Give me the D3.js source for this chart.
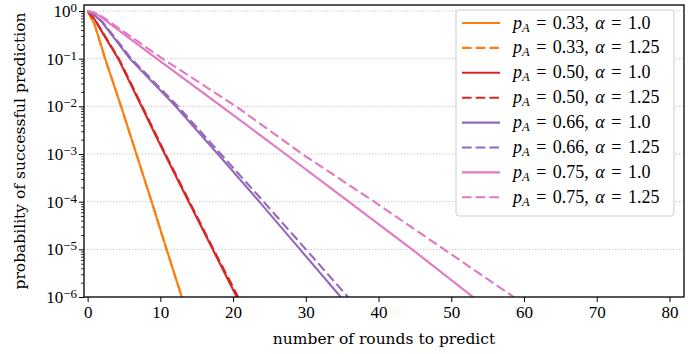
<!DOCTYPE html>
<html>
<head>
<meta charset="utf-8">
<script src="https://cdn.jsdelivr.net/npm/d3@7"></script>
<style>
  body { margin: 0; background: #fff; }
  svg { display: block; font-family: "Liberation Serif", "DejaVu Serif", serif; }
</style>
</head>
<body>
<div id="chart"></div>
<script>
// values (rounds, probability)
var orangeSolidRounds = [0, 1, 2, 2.4, 4.6, 6.7, 8.8, 10.85, 12.95]
var orangeSolidProb   = [1, 0.5, 0.16, 1e-1, 1e-2, 1e-3, 1e-4, 1e-5, 1e-6]
var orangeDashRounds  = [0, 1, 2, 2.4, 4.6, 6.7, 8.8, 10.85, 12.95]
var orangeDashProb    = [1, 0.5, 0.16, 1e-1, 1e-2, 1e-3, 1e-4, 1e-5, 1e-6]
var redSolidRounds    = [0, 1, 2, 4.2, 7.4, 10.6, 13.9, 17.2, 20.5]
var redSolidProb      = [1, 0.65, 0.36, 1e-1, 1e-2, 1e-3, 1e-4, 1e-5, 1e-6]
var redDashRounds     = [0, 1, 2, 4.3, 7.5, 10.7, 14.0, 17.3, 20.7]
var redDashProb       = [1, 0.66, 0.37, 1e-1, 1e-2, 1e-3, 1e-4, 1e-5, 1e-6]
var purpleSolidRounds = [0, 1, 2, 5.8, 12.1, 17.9, 23.6, 29.2, 34.8]
var purpleSolidProb   = [1, 0.8, 0.58, 1e-1, 1e-2, 1e-3, 1e-4, 1e-5, 1e-6]
var purpleDashRounds  = [0, 1, 2, 6.0, 12.4, 18.3, 24.2, 30.0, 35.8]
var purpleDashProb    = [1, 0.81, 0.6, 1e-1, 1e-2, 1e-3, 1e-4, 1e-5, 1e-6]
var pinkSolidRounds   = [0, 1, 2, 9.5, 18.4, 27.2, 35.9, 44.6, 53.0]
var pinkSolidProb     = [1, 0.9, 0.72, 1e-1, 1e-2, 1e-3, 1e-4, 1e-5, 1e-6]
var pinkDashRounds    = [0, 1, 2, 10.3, 20.4, 29.5, 39.4, 49.0, 58.6]
var pinkDashProb      = [1, 0.92, 0.76, 1e-1, 1e-2, 1e-3, 1e-4, 1e-5, 1e-6]

var pA     = ["0.33", "0.33", "0.50", "0.50", "0.66", "0.66", "0.75", "0.75"]
var alphas = ["1.0", "1.25", "1.0", "1.25", "1.0", "1.25", "1.0", "1.25"]
var xTicks = [0, 10, 20, 30, 40, 50, 60, 70, 80]
var yTicks = [1, 1e-1, 1e-2, 1e-3, 1e-4, 1e-5, 1e-6]
var yExp   = ["0", "\u22121", "\u22122", "\u22123", "\u22124", "\u22125", "\u22126"]

var colors = ["#ff7f0e", "#ff7f0e", "#d62728", "#d62728", "#9467bd", "#9467bd", "#e377c2", "#e377c2"]

var allRounds = [orangeSolidRounds, orangeDashRounds, redSolidRounds, redDashRounds,
                 purpleSolidRounds, purpleDashRounds, pinkSolidRounds, pinkDashRounds]
var allProb = [orangeSolidProb, orangeDashProb, redSolidProb, redDashProb,
               purpleSolidProb, purpleDashProb, pinkSolidProb, pinkDashProb]

var series = allRounds.map(function(r, i){
  return {
    pts: r.map(function(x, j){ return [x, allProb[i][j]] }),
    color: colors[i],
    dashed: i % 2 == 1,
    pA: pA[i],
    alpha: alphas[i]
  }
})

var w = 699, h = 354
var mLeft = 84, mRight = 684, mTop = 5, mBottom = 297
var labelFont = "DejaVu Serif"
var dash = "9.6,4.1"

var svg = d3.select("#chart").append("svg").attr("width", w).attr("height", h)

var x = d3.scaleLinear().domain([-0.5, 82]).range([mLeft, mRight])
var y = d3.scaleLog().domain([1e-6, 1.336]).range([mBottom, mTop])

svg.append("clipPath").attr("id", "clip")
  .append("rect").attr("x", mLeft).attr("y", mTop)
  .attr("width", mRight - mLeft).attr("height", mBottom - mTop)

// dotted grid
svg.selectAll(".grid")
  .data(yTicks)
  .enter()
  .append("line")
  .attr("x1", mLeft).attr("x2", mRight)
  .attr("y1", function(d){ return y(d) }).attr("y2", function(d){ return y(d) })
  .attr("stroke", "#b0b0b0")
  .attr("stroke-width", 1)
  .attr("stroke-dasharray", "1,2.2")

var line = d3.line()
  .x(function(d){ return x(d[0]) })
  .y(function(d){ return y(d[1]) })

svg.append("g").attr("clip-path", "url(#clip)")
  .selectAll("path")
  .data(series)
  .enter()
  .append("path")
  .attr("d", function(d){ return line(d.pts) })
  .attr("fill", "none")
  .attr("stroke", function(d){ return d.color })
  .attr("stroke-width", 2.1)
  .attr("stroke-dasharray", function(d){ return d.dashed ? dash : null })

// axes
var xAxis = d3.axisBottom(x).tickValues(xTicks).tickSize(5).tickPadding(4)
  .tickFormat(d3.format("d"))
var gx = svg.append("g").attr("transform", "translate(0," + mBottom + ")").call(xAxis)
gx.select(".domain").remove()
gx.selectAll("line").attr("stroke", "#000").attr("stroke-width", 1)
gx.selectAll("text").attr("font-family", "Liberation Serif").attr("font-size", 17).attr("fill", "#000")

var minors = []
yTicks.slice(1).forEach(function(t){
  for (var k = 2; k <= 9; k++) minors.push(t * k)
})
var gy = svg.append("g").attr("transform", "translate(" + mLeft + ",0)")
gy.call(d3.axisLeft(y).tickValues(minors).tickSize(3).tickFormat(""))
gy.select(".domain").remove()
gy.selectAll("line").attr("stroke", "#000").attr("stroke-width", 0.8)

var gyMaj = svg.append("g").attr("transform", "translate(" + mLeft + ",0)")
gyMaj.call(d3.axisLeft(y).tickValues(yTicks).tickSize(5).tickFormat(""))
gyMaj.select(".domain").remove()
gyMaj.selectAll("line").attr("stroke", "#000").attr("stroke-width", 1)

var ylab = svg.selectAll(".ylab")
  .data(yTicks)
  .enter()
  .append("text")
  .attr("x", 77)
  .attr("y", function(d){ return y(d) + 6 })
  .attr("text-anchor", "end")
  .attr("font-size", 17)
ylab.append("tspan").text("10")
ylab.append("tspan").attr("dy", -5).attr("font-size", 13).text(function(d, i){ return yExp[i] })

// frame
svg.append("rect")
  .attr("x", mLeft).attr("y", mTop)
  .attr("width", mRight - mLeft).attr("height", mBottom - mTop)
  .attr("fill", "none").attr("stroke", "#000").attr("stroke-width", 1.3)

svg.append("text")
  .attr("x", (mLeft + mRight) / 2).attr("y", 344)
  .attr("text-anchor", "middle").attr("font-size", 15.5)
  .attr("font-family", labelFont)
  .text("number of rounds to predict")

svg.append("text")
  .attr("transform", "translate(25," + ((mTop + mBottom) / 2) + ") rotate(-90)")
  .attr("text-anchor", "middle").attr("font-size", 15.5)
  .attr("font-family", labelFont)
  .text("probability of successful prediction")

// legend
var lg = svg.append("g")
lg.append("rect")
  .attr("x", 456).attr("y", 10).attr("width", 218).attr("height", 206)
  .attr("rx", 3)
  .attr("fill", "#fff").attr("fill-opacity", 0.9)
  .attr("stroke", "#cccccc").attr("stroke-width", 1)

var rowY = function(i){ return 23 + i * 24.9 }

lg.selectAll(".lgline")
  .data(series)
  .enter()
  .append("line")
  .attr("x1", 462).attr("x2", 500)
  .attr("y1", function(d, i){ return rowY(i) }).attr("y2", function(d, i){ return rowY(i) })
  .attr("stroke", function(d){ return d.color })
  .attr("stroke-width", 2.1)
  .attr("stroke-dasharray", function(d){ return d.dashed ? dash : null })

var lt = lg.selectAll(".lgtext")
  .data(series)
  .enter()
  .append("text")
  .attr("x", 513)
  .attr("y", function(d, i){ return rowY(i) + 5.5 })
  .attr("font-size", 18)
  .attr("word-spacing", 2)
lt.append("tspan").attr("font-style", "italic").text("p")
lt.append("tspan").attr("font-style", "italic").attr("font-size", 12.5).attr("dy", 3).text("A")
lt.append("tspan").attr("dy", -3).text(function(d){ return " = " + d.pA + ", " })
lt.append("tspan").attr("font-style", "italic").text("\u03b1")
lt.append("tspan").text(function(d){ return " = " + d.alpha })
</script>
</body>
</html>
